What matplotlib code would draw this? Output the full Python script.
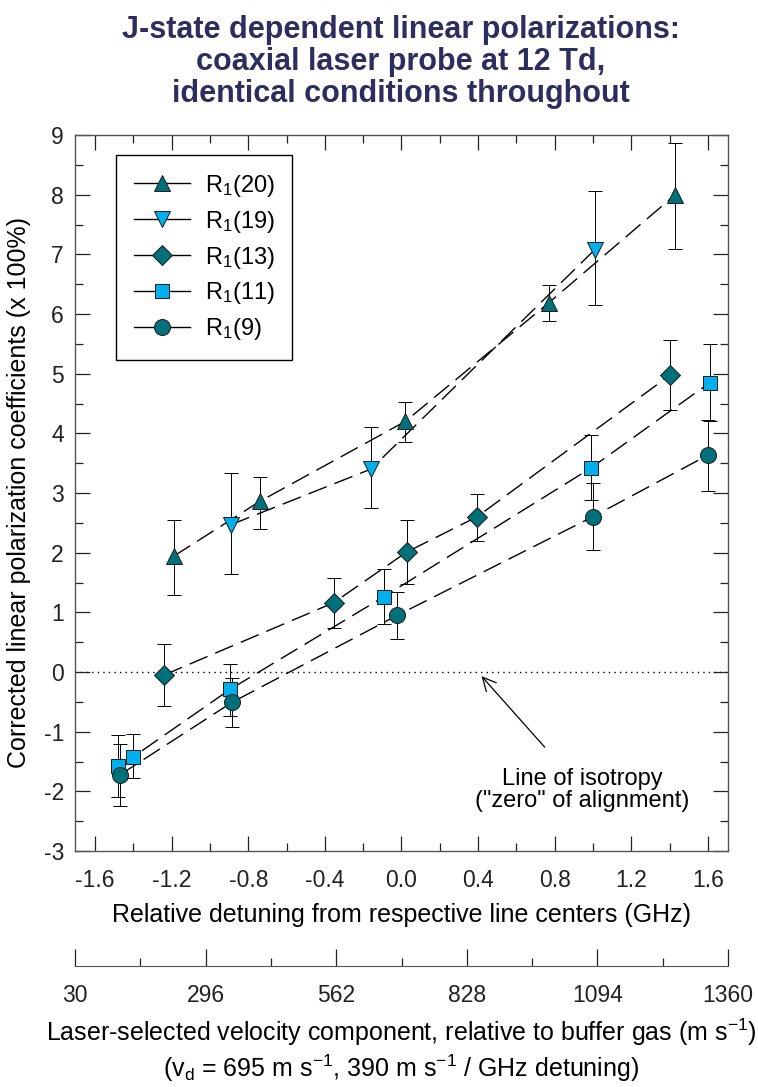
import matplotlib
matplotlib.use("Agg")
import matplotlib.pyplot as plt
from matplotlib.ticker import MultipleLocator, FixedLocator
import numpy as np

plt.rcParams['font.family'] = ['Liberation Sans', 'DejaVu Sans']
plt.rcParams['mathtext.default'] = 'regular'
plt.rcParams['axes.unicode_minus'] = False

TEAL = '#00707a'
LIGHT_BLUE = '#00b0ee'
TITLE_COLOR = '#2d2e5f'

# detuning (GHz), coefficient (x 100%), lower / upper error bar ends
r20_x = [-1.19, -0.74, 0.02, 0.77, 1.43]
r20_y = [1.94, 2.86, 4.20, 6.19, 8.00]
r20_lo = [1.29, 2.40, 3.85, 5.88, 7.09]
r20_hi = [2.55, 3.27, 4.52, 6.48, 8.86]

r19_x = [-0.89, -0.16, 1.01]
r19_y = [2.47, 3.40, 7.08]
r19_lo = [1.64, 2.75, 6.15]
r19_hi = [3.34, 4.11, 8.06]

r13_x = [-1.24, -0.355, 0.027, 0.394, 1.40]
r13_y = [-0.05, 1.16, 2.01, 2.60, 4.97]
r13_lo = [-0.57, 0.74, 1.48, 2.20, 4.39]
r13_hi = [0.47, 1.58, 2.55, 2.98, 5.56]

r11_x = [-1.478, -1.40, -0.895, -0.093, 0.99, 1.61]
r11_y = [-1.57, -1.42, -0.29, 1.26, 3.42, 4.85]
r11_lo = [-2.10, -1.78, -0.73, 0.80, 2.88, 4.20]
r11_hi = [-1.06, -1.04, 0.14, 1.72, 3.98, 5.49]

r9_x = [-1.469, -0.886, -0.022, 0.998, 1.60]
r9_y = [-1.72, -0.51, 0.95, 2.60, 3.635]
r9_lo = [-2.25, -0.92, 0.55, 2.04, 3.03]
r9_hi = [-1.21, -0.10, 1.345, 3.16, 4.23]

series = [
    ('R$_1$(20)', r20_x, r20_y, r20_lo, r20_hi, '^', TEAL, 11),
    ('R$_1$(19)', r19_x, r19_y, r19_lo, r19_hi, 'v', LIGHT_BLUE, 11),
    ('R$_1$(13)', r13_x, r13_y, r13_lo, r13_hi, 'D', TEAL, 10),
    ('R$_1$(11)', r11_x, r11_y, r11_lo, r11_hi, 's', LIGHT_BLUE, 10),
    ('R$_1$(9)', r9_x, r9_y, r9_lo, r9_hi, 'o', TEAL, 11.5),
]

detuning_ticks = [-1.6, -1.2, -0.8, -0.4, 0.0, 0.4, 0.8, 1.2, 1.6]
detuning_labels = ['-1.6', '-1.2', '-0.8', '-0.4', '0.0', '0.4', '0.8', '1.2', '1.6']

# velocity scale: v = v_d + slope * detuning
v_d = 695.0
v_slope = 390.0
v_ticks = [30, 296, 562, 828, 1094, 1360]
v_lim = (30, 1360)

xlim = ((v_lim[0] - v_d) / v_slope, (v_lim[1] - v_d) / v_slope)
ylim = (-3, 9)

fig = plt.figure(figsize=(7.58, 10.87), dpi=100)
ax = fig.add_axes([75 / 758, 1 - 851 / 1087, 653 / 758, 716 / 1087])

handles = []
for label, x, y, lo, hi, mk, col, ms in series:
    x = np.array(x)
    y = np.array(y)
    yerr = [y - np.array(lo), np.array(hi) - y]
    ax.errorbar(x, y, yerr=yerr, fmt='none', ecolor='black', elinewidth=0.7,
                capsize=5, capthick=0.7, zorder=2)
    ax.plot(x, y, color='black', lw=1.0, dashes=(14, 6), zorder=3)
    ax.plot(x, y, linestyle='none', marker=mk, ms=ms, mfc=col,
            mec='#1a1a1a', mew=0.7, zorder=4)
    h, = ax.plot([], [], color='black', lw=1.0, marker=mk, ms=ms, mfc=col,
                 mec='#1a1a1a', mew=0.7, label=label)
    handles.append(h)

ax.axhline(0, color='black', lw=1.0, linestyle=(0, (1, 3)), zorder=1)

ax.annotate('Line of isotropy\n("zero" of alignment)', xy=(0.418, -0.07),
            xytext=(0.945, -1.97), ha='center', va='center', fontsize=17,
            linespacing=1.0,
            arrowprops=dict(arrowstyle='->', color='black', lw=0.9,
                            mutation_scale=24, shrinkA=17, shrinkB=0))

ax.set_xlim(*xlim)
ax.set_ylim(*ylim)
ax.xaxis.set_major_locator(FixedLocator(detuning_ticks))
ax.xaxis.set_minor_locator(MultipleLocator(0.2))
ax.yaxis.set_major_locator(MultipleLocator(1))
ax.yaxis.set_minor_locator(MultipleLocator(0.5))
ax.set_xticklabels(detuning_labels)
ax.tick_params(which='both', direction='in', top=True, right=True,
               labelsize=16.5, colors='#222222', pad=8)
ax.tick_params(axis='x', which='both', pad=13)
ax.tick_params(which='major', length=11, width=0.9)
ax.tick_params(which='minor', length=6, width=0.9)
for s in ax.spines.values():
    s.set_color('#555555')
    s.set_linewidth(1.0)

ax.set_xlabel('Relative detuning from respective line centers (GHz)',
              fontsize=18, labelpad=8)
ax.set_ylabel('Corrected linear polarization coefficients (x 100%)',
              fontsize=18, labelpad=9)

leg = ax.legend(handles=handles, loc='upper left',
                bbox_to_anchor=(116 / 758, 1 - 155 / 1087),
                bbox_transform=fig.transFigure, fontsize=17,
                handlelength=2.4, handletextpad=0.6, labelspacing=0.42,
                borderpad=0.75, borderaxespad=0, fancybox=False,
                edgecolor='black', framealpha=1)
leg.get_frame().set_linewidth(1.0)

fig.text(401 / 758, 1 - 62 / 1087,
         'J-state dependent linear polarizations:\n'
         'coaxial laser probe at 12 Td,\n'
         'identical conditions throughout',
         ha='center', va='center', fontsize=22, fontweight='bold',
         color=TITLE_COLOR, linespacing=1.08)

# velocity axis below the detuning axis
ax2 = fig.add_axes([75 / 758, 1 - 966 / 1087, 653 / 758, 0.001])
ax2.set_xlim(*v_lim)
ax2.set_ylim(0, 1)
for side in ('top', 'left', 'right'):
    ax2.spines[side].set_visible(False)
ax2.spines['bottom'].set_color('#555555')
ax2.yaxis.set_visible(False)
ax2.xaxis.set_major_locator(FixedLocator(v_ticks))
ax2.xaxis.set_minor_locator(FixedLocator(np.arange(30, 1361, 133)))
ax2.tick_params(which='both', direction='in', labelsize=16.5, colors='#222222',
                pad=13)
ax2.tick_params(which='major', length=12, width=0.9)
ax2.tick_params(which='minor', length=6, width=0.9)
ax2.set_xlabel('Laser-selected velocity component, relative to buffer gas (m s$^{-1}$)',
               fontsize=18, labelpad=7)
ax2.patch.set_alpha(0)

fig.text(401 / 758, 1 - 1068 / 1087,
         '(v$_d$ = 695 m s$^{-1}$, 390 m s$^{-1}$ / GHz detuning)',
         ha='center', va='center', fontsize=18)

fig.savefig('out.png', dpi=100)
